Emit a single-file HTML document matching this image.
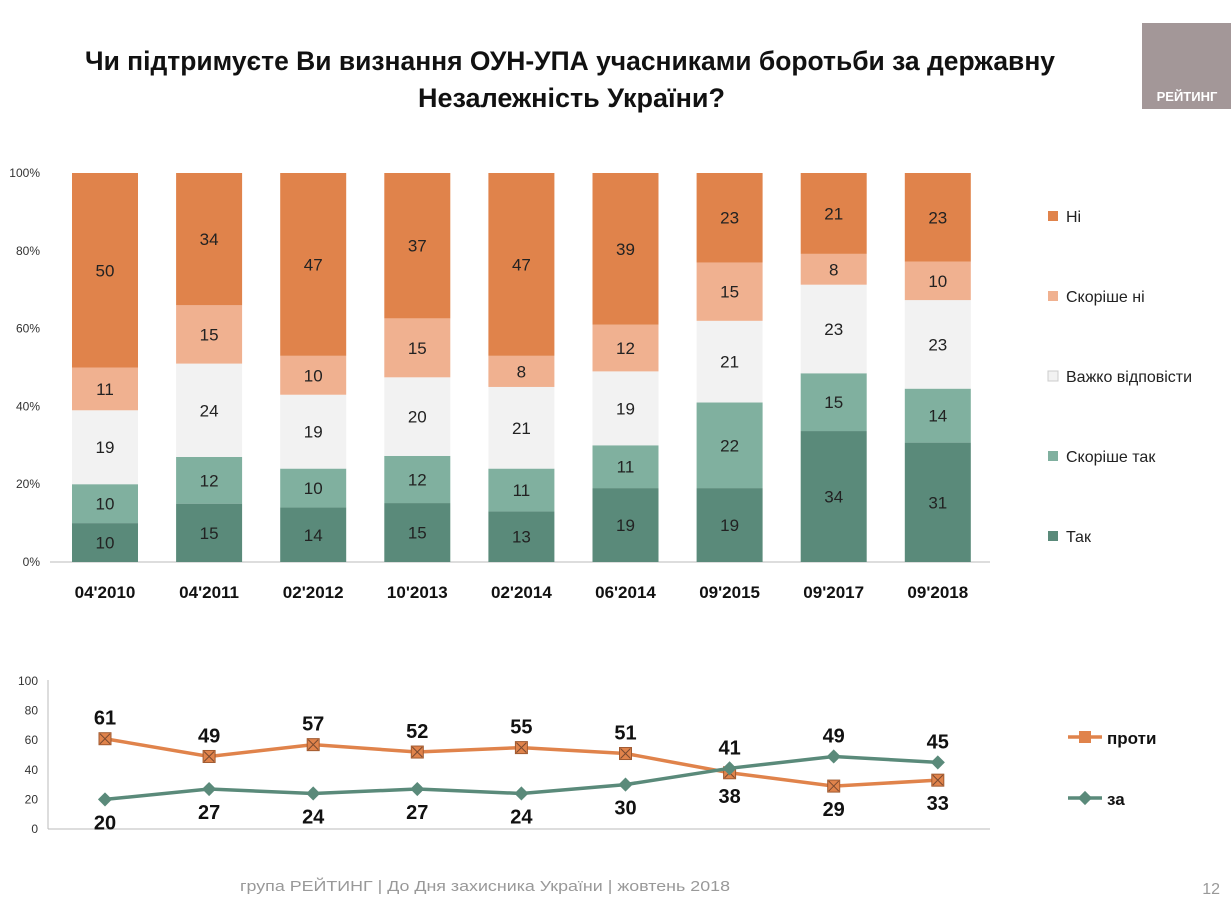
<!DOCTYPE html>
<html><head><meta charset="utf-8"><style>
body{margin:0;background:#fff;font-family:"Liberation Sans",sans-serif;}
#wrap{position:relative;width:1231px;height:901px;overflow:hidden;}
</style></head><body>
<div id="wrap">
<svg id="s" width="1231" height="901" xmlns="http://www.w3.org/2000/svg">
<text x="85" y="70" textLength="970" lengthAdjust="spacingAndGlyphs" font-size="27" font-weight="bold" fill="#111">Чи підтримуєте Ви визнання ОУН-УПА учасниками боротьби за державну</text>
<text x="418" y="107" textLength="307" lengthAdjust="spacingAndGlyphs" font-size="27" font-weight="bold" fill="#111">Незалежність України?</text>
<rect x="1142" y="23" width="89" height="86" fill="#a39798"/>
<text x="1187" y="101" text-anchor="middle" font-size="13" font-weight="bold" fill="#fff">РЕЙТИНГ</text>
<text x="240" y="891" textLength="490" lengthAdjust="spacingAndGlyphs" font-size="15" fill="#999">група РЕЙТИНГ  |  До Дня захисника України |  жовтень  2018</text>
<text x="1220" y="894" text-anchor="end" font-size="16" fill="#999">12</text>
<g id="bars"></g><g id="lines"></g>
</svg>
</div>
<script>
const categories=["04'2010","04'2011","02'2012","10'2013","02'2014","06'2014","09'2015","09'2017","09'2018"];
const tak=[10,15,14,15,13,19,19,34,31];
const skorisheTak=[10,12,10,12,11,11,22,15,14];
const vazhko=[19,24,19,20,21,19,21,23,23];
const skorisheNi=[11,15,10,15,8,12,15,8,10];
const ni=[50,34,47,37,47,39,23,21,23];
const proty=[61,49,57,52,55,51,38,29,33];
const za=[20,27,24,27,24,30,41,49,45];
const pctTicks=["0%","20%","40%","60%","80%","100%"];
const lineTicks=[0,20,40,60,80,100];
const seriesNames=["Так","Скоріше так","Важко відповісти","Скоріше ні","Ні"];

const NS="http://www.w3.org/2000/svg";
function mk(tag,attrs,parent,text){const e=document.createElementNS(NS,tag);for(const k in attrs)e.setAttribute(k,attrs[k]);if(text!==undefined)e.textContent=text;parent.appendChild(e);return e;}
const xC=i=>105+i*104.1;
const yB=v=>562-v*3.89;
const yL=v=>829-v*1.48;
const bars=document.getElementById('bars'), lines=document.getElementById('lines');
const series=[tak,skorisheTak,vazhko,skorisheNi,ni];
const colors=["#5a8a7a","#80b09f","#f2f2f2","#f0b190","#e0834b"];
const barKeys=["tak","skorishe-tak","vazhko","skorishe-ni","ni"];
let ax=mk('line',{x1:50,y1:562,x2:990,y2:562,stroke:'#bbb'},bars);

pctTicks.forEach((t,i)=>{const e=mk('text',{x:40,y:yB(i*20)+4,'text-anchor':'end','font-size':12,fill:'#333'},bars,t);
});
categories.forEach((c,i)=>{
 let total=0;series.forEach(s=>total+=s[i]);
 let cum=0;
 series.forEach((s,k)=>{
  const v=s[i];const top=cum+v*100/total;
  const r=mk('rect',{x:xC(i)-33,y:yB(top),width:66,height:yB(cum)-yB(top),fill:colors[k]},bars);
  
  const t=mk('text',{x:xC(i),y:(yB(cum)+yB(top))/2+6,'text-anchor':'middle','font-size':17,fill:'#222'},bars,String(v));
  
  cum=top;
 });
 const l=mk('text',{x:xC(i),y:598,'text-anchor':'middle','font-size':17,'font-weight':'bold',fill:'#111'},bars,c);
 
});
seriesNames.forEach((n,k)=>{const y=536-k*80;
 const r=mk('rect',{x:1048,y:y-5,width:10,height:10,fill:colors[k],stroke:k==2?'#ccc':'none'},bars);
 
 const t=mk('text',{x:1066,y:y+6,'font-size':16,fill:'#222'},bars,n);
 });
let ly=mk('line',{x1:48,y1:680,x2:48,y2:829,stroke:'#bbb'},lines);

let lx=mk('line',{x1:48,y1:829,x2:990,y2:829,stroke:'#bbb'},lines);

lineTicks.forEach(t=>{const e=mk('text',{x:38,y:yL(t)+4,'text-anchor':'end','font-size':12,fill:'#333'},lines,String(t));
});
function drawLine(data,col,name,isProty){
 const p=mk('polyline',{points:data.map((v,i)=>xC(i)+','+yL(v)).join(' '),fill:'none',stroke:col,'stroke-width':3.5},lines);
 
 data.forEach((v,i)=>{const x=xC(i),y=yL(v);
  let m;
  if(isProty){m=mk('rect',{x:x-6,y:y-6,width:12,height:12,fill:'#e0834b',stroke:'#a05a30'},lines);
   mk('path',{d:`M${x-5} ${y-5}L${x+5} ${y+5}M${x+5} ${y-5}L${x-5} ${y+5}`,stroke:'#7a4a30','stroke-width':1},lines);}
  else m=mk('rect',{x:x-5,y:y-5,width:10,height:10,fill:col,transform:`rotate(45 ${x} ${y})`},lines);
  
  const above=isProty?(i<6):(i>=6);
  const t=mk('text',{x:x,y:above?y-14:y+30,'text-anchor':'middle','font-size':20,'font-weight':'bold',fill:'#111'},lines,String(v));
  
 });
}
drawLine(proty,'#e0834b','proty',true);
drawLine(za,'#5a8a7a','za',false);
let g1=mk('line',{x1:1068,y1:737,x2:1102,y2:737,stroke:'#e0834b','stroke-width':3.5},lines);

mk('rect',{x:1079,y:731,width:12,height:12,fill:'#e0834b'},lines);
let t1=mk('text',{x:1107,y:744,'font-size':17,'font-weight':'bold',fill:'#111'},lines,'проти');

let g2=mk('line',{x1:1068,y1:798,x2:1102,y2:798,stroke:'#5a8a7a','stroke-width':3.5},lines);

mk('rect',{x:1080,y:793,width:10,height:10,fill:'#5a8a7a',transform:'rotate(45 1085 798)'},lines);
let t2=mk('text',{x:1107,y:805,'font-size':17,'font-weight':'bold',fill:'#111'},lines,'за');

</script>
</body></html>
